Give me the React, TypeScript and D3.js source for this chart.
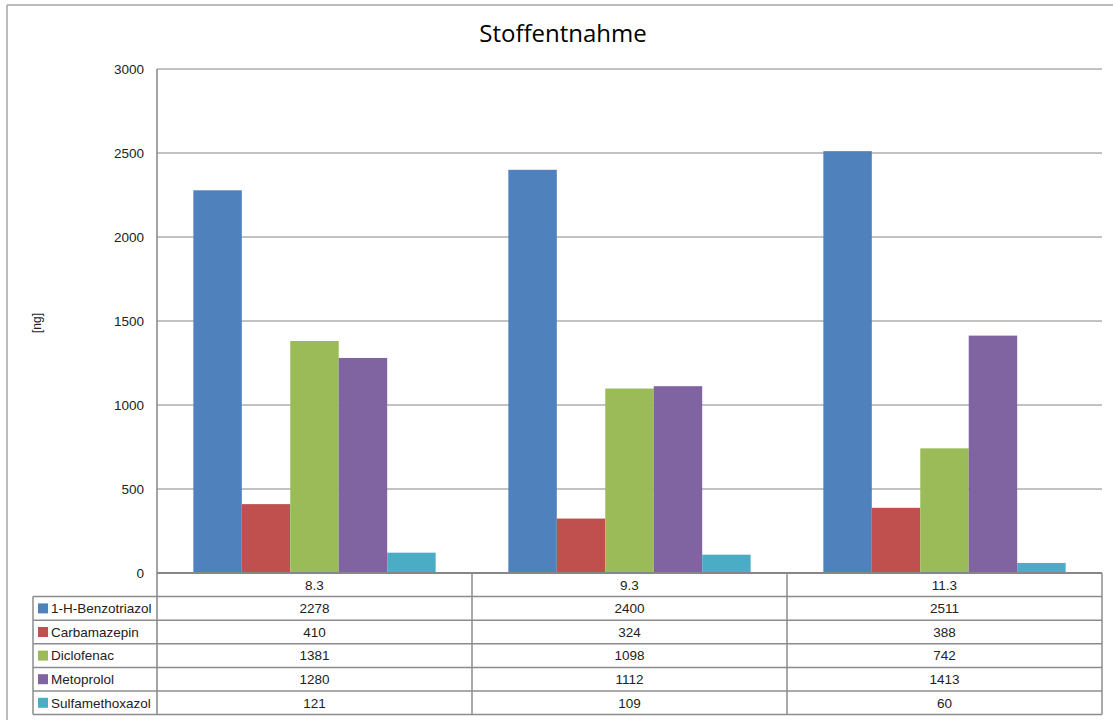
import React from "react";
import * as d3 from "d3";

// Sampling dates (category columns)
const categories = ["8.3", "9.3", "11.3"];

// Substances (series)
const seriesNames = [
  "1-H-Benzotriazol",
  "Carbamazepin",
  "Diclofenac",
  "Metoprolol",
  "Sulfamethoxazol",
];

// Amounts in ng per substance, one value per date
const benzotriazol = [2278, 2400, 2511];
const carbamazepin = [410, 324, 388];
const diclofenac = [1381, 1098, 742];
const metoprolol = [1280, 1112, 1413];
const sulfamethoxazol = [121, 109, 60];

const seriesValues = [benzotriazol, carbamazepin, diclofenac, metoprolol, sulfamethoxazol];

const seriesColors = ["#4f81bd", "#c0504d", "#9bbb59", "#8064a2", "#4bacc6"];

const yTicks = [0, 500, 1000, 1500, 2000, 2500, 3000];

const W = 1113;
const H = 720;

export default function App() {
  const plotLeft = 157;
  const plotRight = 1102;
  const plotTop = 69;
  const plotBottom = 573;
  const tableLeft = 33;
  const rowH = 23.6;

  const x0 = d3.scaleBand<string>().domain(categories).range([plotLeft, plotRight]).padding(0);
  const x1 = d3
    .scaleBand<string>()
    .domain(seriesNames)
    .range([0, x0.bandwidth()])
    .paddingInner(0)
    .paddingOuter(0.75);
  const y = d3.scaleLinear().domain([0, 3000]).range([plotBottom, plotTop]);

  const font = "'Liberation Sans', Arial, sans-serif";
  const gridColor = "#868686";
  const tableLine = "#8c8c8c";
  const fs = 13.5;

  const headerTop = plotBottom;
  const headerBottom = headerTop + rowH;
  const tableBottom = headerBottom + rowH * seriesNames.length;

  return (
    <svg
      width={W}
      height={H}
      style={{ position: "absolute", left: 0, top: 0, display: "block", background: "#fff" }}
      fontFamily={font}
    >
      {/* chart frame */}
      <line x1={7} y1={5} x2={W} y2={5} stroke="#a6a6a6" strokeWidth={1.5} />
      <line x1={7} y1={5} x2={7} y2={H} stroke="#a6a6a6" strokeWidth={1.5} />

      {/* title */}
      <text
        x={563}
        y={42}
        textAnchor="middle"
        fontSize={24}
        fontFamily="'Open Sans', 'Noto Sans', sans-serif"
        fill="#000"
      >
        Stoffentnahme
      </text>

      {/* y axis title */}
      <text
        transform={`translate(41, 323) rotate(-90)`}
        textAnchor="middle"
        fontSize={12}
        fill="#222"
      >
        [ng]
      </text>

      {/* gridlines and tick labels */}
      {yTicks.map((t) => (
        <g key={t}>
          {t > 0 && (
            <line x1={plotLeft} x2={plotRight} y1={y(t)} y2={y(t)} stroke={gridColor} strokeWidth={1} />
          )}
          <text x={144} y={y(t)} dy="0.35em" textAnchor="end" fontSize={fs} fill="#222">
            {t}
          </text>
        </g>
      ))}

      {/* bars */}
      {categories.map((c, ci) => (
        <g key={c} transform={`translate(${x0(c)},0)`}>
          {seriesNames.map((s, si) => {
            const v = seriesValues[si][ci];
            return (
              <rect
                key={s}
                x={x1(s)}
                y={y(v)}
                width={x1.bandwidth()}
                height={y(0) - y(v)}
                fill={seriesColors[si]}
              />
            );
          })}
        </g>
      ))}

      {/* value axis line */}
      <line x1={plotLeft} x2={plotLeft} y1={plotTop} y2={tableBottom} stroke={gridColor} strokeWidth={1.5} />

      {/* data table: header row */}
      <line x1={plotLeft} x2={plotRight} y1={headerTop} y2={headerTop} stroke={gridColor} strokeWidth={2} />
      {categories.map((c) => (
        <text
          key={c}
          x={(x0(c) as number) + x0.bandwidth() / 2}
          y={(headerTop + headerBottom) / 2}
          dy="0.35em"
          textAnchor="middle"
          fontSize={fs}
          fill="#222"
        >
          {c}
        </text>
      ))}

      {/* data table: horizontal row lines */}
      {d3.range(seriesNames.length + 1).map((i) => (
        <line
          key={i}
          x1={tableLeft}
          x2={plotRight}
          y1={headerBottom + i * rowH}
          y2={headerBottom + i * rowH}
          stroke={tableLine}
          strokeWidth={1.5}
        />
      ))}

      {/* data table: vertical lines */}
      <line x1={tableLeft} x2={tableLeft} y1={headerBottom} y2={tableBottom} stroke={tableLine} strokeWidth={1.5} />
      {categories.map((c) => (
        <line
          key={c}
          x1={(x0(c) as number) + x0.bandwidth()}
          x2={(x0(c) as number) + x0.bandwidth()}
          y1={headerTop}
          y2={tableBottom}
          stroke={tableLine}
          strokeWidth={1.5}
        />
      ))}

      {/* data table: legend keys, names and values */}
      {seriesNames.map((s, si) => {
        const cy = headerBottom + si * rowH + rowH / 2;
        return (
          <g key={s}>
            <rect x={38} y={cy - 5} width={10} height={10} fill={seriesColors[si]} />
            <text x={51} y={cy} dy="0.35em" fontSize={fs} fill="#222">
              {s}
            </text>
            {categories.map((c, ci) => (
              <text
                key={c}
                x={(x0(c) as number) + x0.bandwidth() / 2}
                y={cy}
                dy="0.35em"
                textAnchor="middle"
                fontSize={fs}
                fill="#222"
              >
                {seriesValues[si][ci]}
              </text>
            ))}
          </g>
        );
      })}
    </svg>
  );
}
